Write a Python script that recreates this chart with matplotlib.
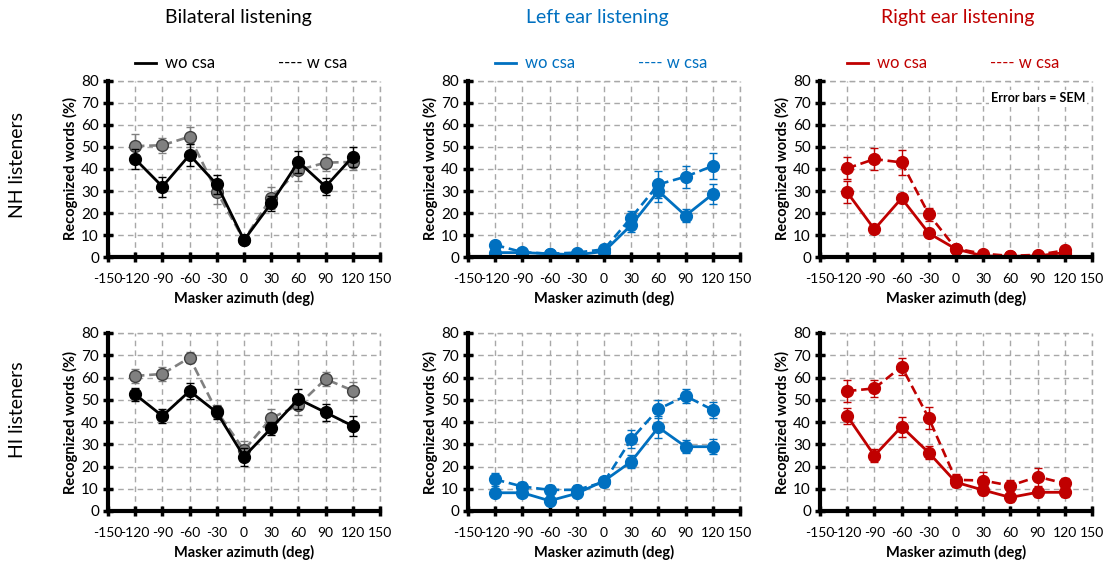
import numpy as np
import matplotlib
matplotlib.use("Agg")
import matplotlib.pyplot as plt
from matplotlib.lines import Line2D

plt.rcParams['font.family'] = ['Lato', 'DejaVu Sans']

azimuth = [-120, -90, -60, -30, 0, 30, 60, 90, 120]
x_ticks = [-150, -120, -90, -60, -30, 0, 30, 60, 90, 120, 150]
y_ticks = [0, 10, 20, 30, 40, 50, 60, 70, 80]

column_titles = ["Bilateral listening", "Left ear listening", "Right ear listening"]
row_titles = ["NH listeners", "HI listeners"]

# NH listeners
nh_bi_wo = [44.5, 32, 46.4, 33, 7.7, 24.4, 43.3, 32, 45.6]
nh_bi_wo_sem = [4.5, 4.5, 5, 4.5, 1, 3.5, 5, 4, 4.5]
nh_bi_w = [50.4, 50.8, 54.7, 29.7, 7.7, 27, 39.5, 42.9, 43.2]
nh_bi_w_sem = [5.5, 3.5, 4.5, 5.5, 1, 5, 5, 4, 3.5]

nh_left_wo = [2, 2, 1.5, 1, 2.5, 14.5, 30, 18.8, 28.6]
nh_left_wo_sem = [1, 1, 0.8, 0.8, 1, 3, 5, 3, 4.5]
nh_left_w = [5.5, 2.2, 1.5, 2, 3.5, 17.9, 33, 36.5, 41.4]
nh_left_w_sem = [1.5, 1, 0.8, 0.8, 1, 3, 6, 5, 6]

nh_right_wo = [29.4, 12.6, 26.7, 10.8, 3.6, 0.5, 0.3, 0.5, 2]
nh_right_wo_sem = [5, 1.5, 2, 1.5, 1, 0.5, 0.3, 0.5, 1]
nh_right_w = [40.3, 44.5, 43, 19.4, 3.8, 1.5, 0.5, 1, 3]
nh_right_w_sem = [5, 5, 5.5, 3, 1, 1, 0.5, 0.8, 1]

# HI listeners
hi_bi_wo = [52.4, 42.7, 53.9, 44.3, 24.4, 37.2, 50.3, 44.3, 38.2]
hi_bi_wo_sem = [3, 3, 3.5, 3, 4, 3, 4.5, 4, 4.5]
hi_bi_w = [60.7, 61.6, 68.9, 44.8, 27.4, 41.7, 47.6, 59.3, 54.1]
hi_bi_w_sem = [3, 3, 2.5, 3, 4, 4, 4.5, 3, 4]

hi_left_wo = [8.2, 8.2, 4.6, 7.9, 13.5, 22.2, 37.6, 28.9, 28.9]
hi_left_wo_sem = [1.5, 1.5, 2, 1.5, 2, 3, 5, 3, 3.5]
hi_left_w = [14.2, 11, 9.5, 9.5, 13, 32.2, 45.8, 51.7, 45.4]
hi_left_w_sem = [3, 2, 2, 2, 2, 4, 4, 3, 3.5]

hi_right_wo = [42.7, 24.9, 37.9, 26.2, 12.9, 9.4, 6.1, 8.4, 8.4]
hi_right_wo_sem = [3.5, 3, 4.5, 3, 2, 2, 2, 2, 2]
hi_right_w = [53.9, 55.1, 64.9, 41.7, 14, 13.7, 11.4, 15.4, 12.4]
hi_right_w_sem = [5, 4, 4, 5, 2.5, 4, 2.5, 4, 2.5]

BLUE = "#0070C0"
RED = "#C00000"
GREY = "#808080"
GRID = "#a8a8a8"

panels = [
    [(nh_bi_wo, nh_bi_wo_sem, nh_bi_w, nh_bi_w_sem),
     (nh_left_wo, nh_left_wo_sem, nh_left_w, nh_left_w_sem),
     (nh_right_wo, nh_right_wo_sem, nh_right_w, nh_right_w_sem)],
    [(hi_bi_wo, hi_bi_wo_sem, hi_bi_w, hi_bi_w_sem),
     (hi_left_wo, hi_left_wo_sem, hi_left_w, hi_left_w_sem),
     (hi_right_wo, hi_right_wo_sem, hi_right_w, hi_right_w_sem)],
]

# (wo line colour, w line colour, w marker face, legend text colour)
styles = [
    ("black", GREY, GREY, "black"),
    (BLUE, BLUE, BLUE, BLUE),
    (RED, RED, RED, RED),
]

W, H = 1113, 570
fig = plt.figure(figsize=(W / 100, H / 100), dpi=100)

col_left = [108, 468, 820]
col_width = 272
row_box = [(81, 257), (333, 511)]

for r in range(2):
    top, bottom = row_box[r]
    for c in range(3):
        ax = fig.add_axes([col_left[c] / W, 1 - bottom / H,
                           col_width / W, (bottom - top) / H])
        wo, wo_sem, w, w_sem = panels[r][c]
        wo_col, w_col, w_face, leg_col = styles[c]

        ax.errorbar(azimuth, w, yerr=w_sem, color=w_col, linestyle=(0, (3.5, 1.8)),
                    linewidth=1.9, marker='o', markersize=8.5,
                    markerfacecolor=w_face,
                    markeredgecolor=("#404040" if c == 0 else w_col),
                    markeredgewidth=1.0, ecolor=w_col, elinewidth=1.0,
                    capsize=3, capthick=1.0, zorder=3)
        ax.errorbar(azimuth, wo, yerr=wo_sem, color=wo_col, linestyle='-',
                    linewidth=2.0, marker='o', markersize=8.5,
                    markerfacecolor=wo_col, markeredgecolor=wo_col,
                    ecolor=wo_col, elinewidth=1.0, capsize=3, capthick=1.0,
                    zorder=4)

        ax.set_xlim(-150, 150)
        ax.set_ylim(0, 80)
        ax.set_xticks(x_ticks)
        ax.set_yticks(y_ticks)
        ax.set_xticklabels([str(v) for v in x_ticks])
        ax.set_yticklabels([str(v) for v in y_ticks])
        ax.tick_params(axis='both', direction='inout', length=7, width=2.5,
                       pad=3, colors='black')
        ax.tick_params(axis='y', labelsize=11)
        ax.tick_params(axis='x', labelsize=10, pad=8)
        ax.grid(True, linestyle=(0, (4, 3)), color=GRID, linewidth=1.0)
        ax.set_axisbelow(True)
        for s in ['top', 'right']:
            ax.spines[s].set_visible(False)
        for s in ['left', 'bottom']:
            ax.spines[s].set_linewidth(3)
            ax.spines[s].set_color('black')
            ax.spines[s].set_zorder(5)
        # dashed lines at the upper and right limits
        ax.axhline(80, color=GRID, linestyle=(0, (4, 3)), linewidth=1.0,
                   zorder=0, clip_on=False)
        ax.axvline(150, color=GRID, linestyle=(0, (4, 3)), linewidth=1.0,
                   zorder=0, clip_on=False)

        ax.set_ylabel("Recognized words (%)", fontsize=10.5, fontweight='bold',
                      labelpad=2)
        ax.set_xlabel("Masker azimuth (deg)", fontsize=10.5, fontweight='bold',
                      labelpad=4)

        if r == 0:
            ax.add_line(Line2D([0.10, 0.175], [1.10, 1.10], transform=ax.transAxes,
                               color=leg_col, linewidth=2.0, clip_on=False))
            ax.text(0.21, 1.10, "wo csa", transform=ax.transAxes, color=leg_col,
                    fontsize=12, va='center', ha='left')
            ax.text(0.625, 1.10, "---- w csa", transform=ax.transAxes,
                    color=leg_col, fontsize=12, va='center', ha='left')

        if r == 0 and c == 2:
            ax.text(0.975, 0.935, "Error bars = SEM", transform=ax.transAxes,
                    fontsize=9, fontweight='bold', ha='right', va='top',
                    bbox=dict(facecolor='white', edgecolor='none', pad=1.5),
                    zorder=6)

title_x = [238, 597, 958]
title_cols = ["black", BLUE, RED]
for c in range(3):
    fig.text(title_x[c] / W, 1 - 18 / H, column_titles[c], color=title_cols[c],
             fontsize=14, ha='center', va='center')

fig.text(18 / W, 1 - 165 / H, row_titles[0], rotation=90, fontsize=14,
         ha='center', va='center')
fig.text(18 / W, 1 - 410 / H, row_titles[1], rotation=90, fontsize=14,
         ha='center', va='center')

fig.savefig("out.png", dpi=100, facecolor='white')
